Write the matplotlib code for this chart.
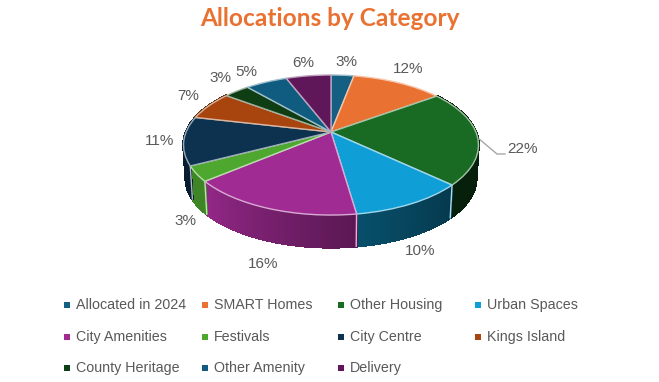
import numpy as np
import matplotlib
matplotlib.use("Agg")
import matplotlib.pyplot as plt
from matplotlib.transforms import Transform
from matplotlib.collections import PolyCollection

categories = ["Allocated in 2024", "SMART Homes", "Other Housing", "Urban Spaces",
              "City Amenities", "Festivals", "City Centre", "Kings Island",
              "County Heritage", "Other Amenity", "Delivery"]
values = [3.0, 12.0, 22.0, 10.7, 16.2, 3.5, 11.2, 6.6, 3.4, 5.5, 5.9]
pct_labels = ["3%", "12%", "22%", "10%", "16%", "3%", "11%", "7%", "3%", "5%", "6%"]
colors = ["#156082", "#E97132", "#196B24", "#0F9ED5", "#A02B93", "#4EA72E",
          "#0D3250", "#A8450F", "#0F3D14", "#0F5C80", "#60175A"]

WIDTH, HEIGHT = 659, 382
CX, CY = 331.0, 132.0
K, K_Y, B = 144.9, 67.6, 0.186
DEPTH, SHRINK = 33.5, 0.985
WALL_SHADE = [(.5, .5), (.5, .5), (.28, .3), (.36, .5), (.56, .92), (.8, .8),
              (.6, .6), (.6, .6), (.6, .6), (.6, .6), (.6, .6)]
LABEL_POS = [(346, 62), (408, 69), (522, 149), (420, 251), (263, 264), (185, 221),
             (160, 141), (188, 96), (220, 78), (246, 72), (303, 63)]
LEGEND_X = [67, 205, 341, 478]
LEGEND_Y = [305, 337, 368]
FONT = ["Liberation Sans", "DejaVu Sans"]
TITLE_FONT = ["Lato", "DejaVu Sans"]


def project(x, y):
    d = 1 + B * y
    return CX + K * x / d, CY - K_Y * y / d


class Perspective(Transform):
    input_dims = output_dims = 2

    def transform_non_affine(self, v):
        v = np.asarray(v, float)
        return np.column_stack(project(v[:, 0], v[:, 1]))


def lighten(hex_color, f):
    c = np.array(matplotlib.colors.to_rgb(hex_color))
    return tuple(c + (1 - c) * f)


fig = plt.figure(figsize=(WIDTH / 100, HEIGHT / 100), dpi=100)
ax = fig.add_axes([0, 0, 1, 1])

wedges, _ = ax.pie(values, colors=colors, startangle=90, counterclock=False, radius=1,
                   wedgeprops=dict(linewidth=1.0, zorder=5))
persp = Perspective() + ax.transData
for w, c in zip(wedges, colors):
    w.set_transform(persp)
    w.set_edgecolor(lighten(c, 0.6))
ax.set_aspect("auto")
ax.set_xlim(0, WIDTH)
ax.set_ylim(HEIGHT, 0)
ax.axis("off")

# side wall
fr = np.cumsum([0] + values) / sum(values) * 2 * np.pi
polys, fcs = [], []
for i, c in enumerate(colors):
    a0, a1 = fr[i], fr[i + 1]
    if a1 < np.radians(80) or a0 > np.radians(290):
        continue
    n = max(int((a1 - a0) * 60), 2)
    ts = np.linspace(a0, a1, n + 1)
    for j in range(n):
        seg = np.linspace(ts[j], ts[j + 1], 3)
        xs, ys = project(np.sin(seg), np.cos(seg))
        bx = CX + (xs - CX) * SHRINK
        by = CY + (ys - CY) * SHRINK + DEPTH
        polys.append(np.column_stack([np.r_[xs, bx[::-1]], np.r_[ys, by[::-1]]]))
        s0, s1 = WALL_SHADE[i]
        s = s0 + (s1 - s0) * (j + 0.5) / n
        fcs.append(tuple(np.array(matplotlib.colors.to_rgb(c)) * s))
    xs, ys = project(np.sin(a0), np.cos(a0))
    if np.radians(100) < a0 < np.radians(260):
        ax.plot([xs, CX + (xs - CX) * SHRINK], [ys, CY + (ys - CY) * SHRINK + DEPTH],
                color=lighten(c, 0.65), lw=1.0, zorder=3)
ax.add_collection(PolyCollection(polys, facecolors=fcs, edgecolors=fcs, linewidths=1.2,
                                 antialiaseds=False, zorder=2))

# leader line for the 22% label
ax.plot([478, 497, 505], [138, 154, 154], color="#A6A6A6", lw=1.0, zorder=1)

for (x, y), t in zip(LABEL_POS, pct_labels):
    ax.text(x, y, t, ha="center", va="center", fontsize=11, color="#595959", family=FONT)

for i, (name, c) in enumerate(zip(categories, colors)):
    col, row = i % 4, i // 4
    ax.plot([LEGEND_X[col]], [LEGEND_Y[row]], marker="s", ms=4.2, color=c, mew=0, ls="none")
    ax.text(LEGEND_X[col] + 9, LEGEND_Y[row], name, ha="left", va="center",
            fontsize=10.3, color="#595959", family=FONT)

fig.text(0.5, 1 - 19 / HEIGHT, "Allocations by Category", ha="center", va="center",
         fontsize=17.6, fontweight="bold", color="#E97132", family=TITLE_FONT)

fig.savefig("out.png", dpi=100, facecolor="white")
